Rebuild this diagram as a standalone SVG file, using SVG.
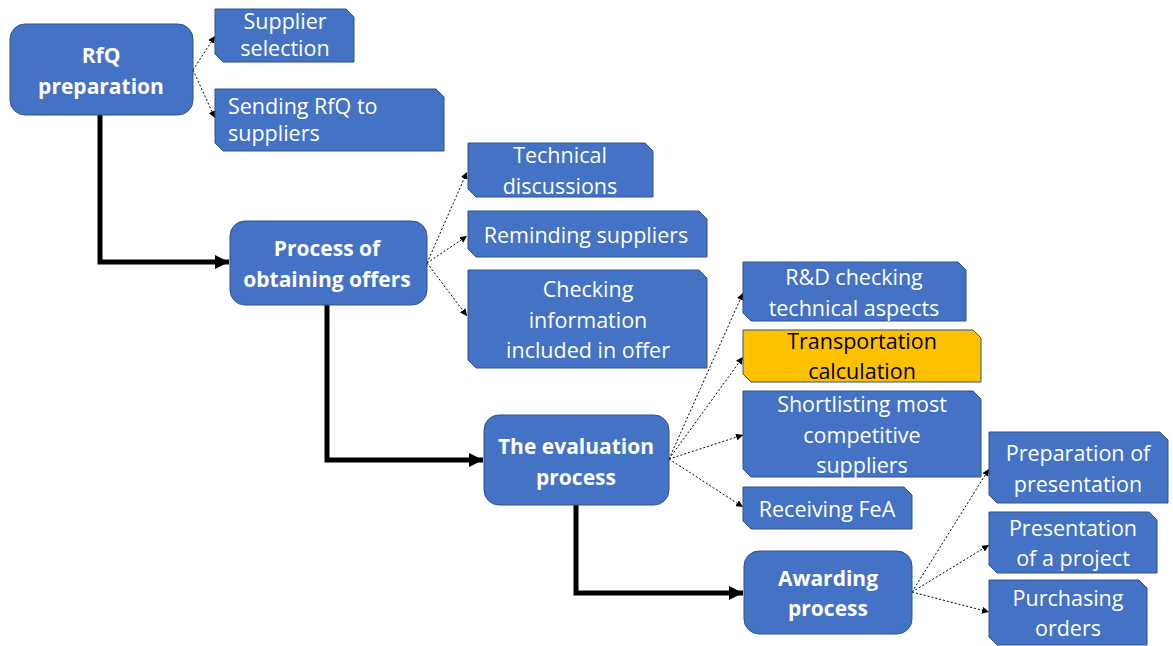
<svg xmlns="http://www.w3.org/2000/svg" width="1173" height="646" viewBox="0 0 1173 646">
<defs>
<marker id="sm" viewBox="0 0 10 10" refX="10" refY="5" markerWidth="7" markerHeight="7" markerUnits="userSpaceOnUse" orient="auto"><path d="M0,0 L10,5 L0,10 Z" fill="#000"/></marker>
<marker id="big" viewBox="0 0 10 10" refX="10" refY="5" markerWidth="14" markerHeight="14" markerUnits="userSpaceOnUse" orient="auto"><path d="M0,0 L10,5 L0,10 Z" fill="#000"/></marker>
</defs>
<style>
.main{fill:#4472C4;stroke:#2F528F;stroke-width:1}
.sub{fill:#4472C4;stroke:#2F528F;stroke-width:1}
.org{fill:#FFC000;stroke:#2F528F;stroke-width:1}
.mt{font-family:"Open Sans","Noto Sans",sans-serif;font-weight:bold;font-size:21px;fill:#fff;text-anchor:middle}
.st{font-family:"Open Sans","Noto Sans",sans-serif;font-size:21.5px;fill:#fff;text-anchor:middle}
.lt{text-anchor:start}
.bk{fill:#000}
.dot{fill:none;stroke:#000;stroke-width:1;stroke-dasharray:2,2;marker-end:url(#sm)}
.thick{fill:none;stroke:#000;stroke-width:5;marker-end:url(#big)}
</style>
<rect width="1173" height="646" fill="#fff"/>
<g id="connectors">
<polyline class="thick" points="100,115 100,262 229,262"/>
<polyline class="thick" points="327,305 327,460 483,460"/>
<polyline class="thick" points="576,505 576,593 743,593"/>
<line class="dot" x1="193" y1="70" x2="215" y2="36"/>
<line class="dot" x1="193" y1="70" x2="215" y2="118"/>
<line class="dot" x1="427" y1="263" x2="467" y2="172"/>
<line class="dot" x1="427" y1="263" x2="467" y2="236"/>
<line class="dot" x1="427" y1="263" x2="467" y2="316"/>
<line class="dot" x1="669" y1="459" x2="743" y2="293"/>
<line class="dot" x1="669" y1="459" x2="743" y2="357"/>
<line class="dot" x1="669" y1="459" x2="743" y2="435"/>
<line class="dot" x1="669" y1="459" x2="743" y2="507"/>
<line class="dot" x1="912" y1="592" x2="989" y2="469"/>
<line class="dot" x1="912" y1="592" x2="989" y2="545"/>
<line class="dot" x1="912" y1="592" x2="989" y2="612"/>
</g>
<g id="rfq">
<rect class="main" x="10" y="24" width="183" height="91" rx="15"/>
<text class="mt" x="101" y="63">RfQ</text>
<text class="mt" x="101" y="94">preparation</text>
</g>
<g id="supplier-selection">
<path class="sub" d="M215,9 L346,9 L354,17 L354,62 L223,62 L215,54 Z"/>
<text class="st" x="285" y="29">Supplier</text>
<text class="st" x="285" y="56">selection</text>
</g>
<g id="sending-rfq">
<path class="sub" d="M215,89 L436,89 L444,97 L444,151 L223,151 L215,143 Z"/>
<text class="st lt" x="228" y="114">Sending RfQ to</text>
<text class="st lt" x="228" y="141">suppliers</text>
</g>
<g id="process-offers">
<rect class="main" x="230" y="221" width="197" height="84" rx="15"/>
<text class="mt" x="327" y="256">Process of</text>
<text class="mt" x="327" y="287">obtaining offers</text>
</g>
<g id="technical-discussions">
<path class="sub" d="M468,143 L645,143 L653,151 L653,197 L476,197 L468,189 Z"/>
<text class="st" x="560" y="163">Technical</text>
<text class="st" x="560" y="194">discussions</text>
</g>
<g id="reminding-suppliers">
<path class="sub" d="M468,211 L699,211 L707,219 L707,257 L476,257 L468,249 Z"/>
<text class="st" x="586" y="243">Reminding suppliers</text>
</g>
<g id="checking-information">
<path class="sub" d="M468,270 L699,270 L707,278 L707,368 L476,368 L468,360 Z"/>
<text class="st" x="588" y="297">Checking</text>
<text class="st" x="588" y="328">information</text>
<text class="st" x="588" y="358">included in offer</text>
</g>
<g id="evaluation">
<rect class="main" x="484" y="415" width="185" height="90" rx="15"/>
<text class="mt" x="576" y="454">The evaluation</text>
<text class="mt" x="576" y="485">process</text>
</g>
<g id="rd-checking">
<path class="sub" d="M743,262 L958,262 L966,270 L966,321 L751,321 L743,313 Z"/>
<text class="st" x="854" y="285">R&amp;D checking</text>
<text class="st" x="854" y="316">technical aspects</text>
</g>
<g id="transportation">
<path class="org" d="M743,330 L973,330 L981,338 L981,382 L751,382 L743,374 Z"/>
<text class="st bk" x="862" y="349">Transportation</text>
<text class="st bk" x="862" y="379">calculation</text>
</g>
<g id="shortlisting">
<path class="sub" d="M743,391 L973,391 L981,399 L981,477 L751,477 L743,469 Z"/>
<text class="st" x="862" y="412">Shortlisting most</text>
<text class="st" x="862" y="443">competitive</text>
<text class="st" x="862" y="473">suppliers</text>
</g>
<g id="receiving-fea">
<path class="sub" d="M743,487 L904,487 L912,495 L912,529 L751,529 L743,521 Z"/>
<text class="st" x="827" y="517">Receiving FeA</text>
</g>
<g id="awarding">
<rect class="main" x="744" y="551" width="168" height="83" rx="15"/>
<text class="mt" x="828" y="586">Awarding</text>
<text class="mt" x="828" y="616">process</text>
</g>
<g id="preparation-presentation">
<path class="sub" d="M989,432 L1160,432 L1168,440 L1168,503 L997,503 L989,495 Z"/>
<text class="st" x="1078" y="461">Preparation of</text>
<text class="st" x="1078" y="492">presentation</text>
</g>
<g id="presentation-project">
<path class="sub" d="M989,512 L1149,512 L1157,520 L1157,573 L997,573 L989,565 Z"/>
<text class="st" x="1073" y="536">Presentation</text>
<text class="st" x="1073" y="566">of a project</text>
</g>
<g id="purchasing-orders">
<path class="sub" d="M989,580 L1139,580 L1147,588 L1147,645 L997,645 L989,637 Z"/>
<text class="st" x="1068" y="606">Purchasing</text>
<text class="st" x="1068" y="636">orders</text>
</g>
</svg>
